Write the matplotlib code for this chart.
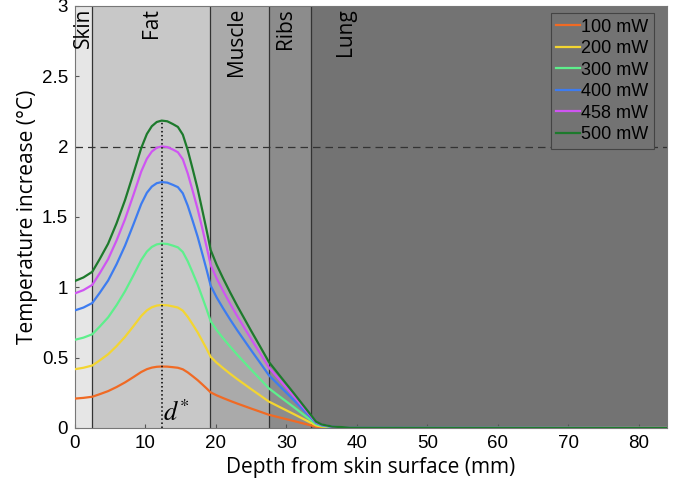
import matplotlib
matplotlib.use("Agg")
import matplotlib.pyplot as plt

plt.rcParams["font.family"] = ["Open Sans", "DejaVu Sans"]
plt.rcParams["mathtext.fontset"] = "stix"

# depth samples (mm)
depth = [0, 1.2, 2.45, 3.5, 4.7, 5.9, 7.1, 8.3, 9.4, 10.2, 10.9, 11.6, 12.3, 13.1, 13.9,
         14.6, 15.3, 16.0, 16.7, 17.4, 18.1, 18.7, 19.25, 20.1, 21, 22, 23, 24, 25, 26.2,
         27.5, 29, 31, 33.5, 34.2, 35, 36.5, 39, 84]

# temperature increase (degC) for each power level
t_100 = [0.209, 0.214, 0.222, 0.240, 0.262, 0.291, 0.324, 0.362, 0.398, 0.418, 0.429, 0.435, 0.437,
         0.436, 0.432, 0.428, 0.417, 0.395, 0.368, 0.340, 0.308, 0.280, 0.253, 0.232, 0.213, 0.193,
         0.174, 0.156, 0.138, 0.117, 0.094, 0.075, 0.050, 0.018, 0.009, 0.005, 0.002, 0.001, 0.0]
t_200 = [0.418, 0.428, 0.444, 0.480, 0.524, 0.582, 0.648, 0.724, 0.796, 0.836, 0.858, 0.870, 0.874,
         0.872, 0.864, 0.856, 0.834, 0.790, 0.736, 0.680, 0.616, 0.560, 0.506, 0.464, 0.426, 0.386,
         0.348, 0.312, 0.276, 0.234, 0.188, 0.150, 0.100, 0.036, 0.018, 0.010, 0.004, 0.001, 0.0]
t_300 = [0.627, 0.642, 0.666, 0.720, 0.786, 0.873, 0.972, 1.086, 1.194, 1.254, 1.287, 1.305, 1.311,
         1.308, 1.296, 1.284, 1.251, 1.185, 1.104, 1.020, 0.924, 0.840, 0.759, 0.696, 0.639, 0.579,
         0.522, 0.468, 0.414, 0.351, 0.282, 0.225, 0.150, 0.054, 0.027, 0.015, 0.006, 0.002, 0.0]
t_400 = [0.836, 0.856, 0.888, 0.960, 1.048, 1.164, 1.296, 1.448, 1.592, 1.672, 1.716, 1.740, 1.748,
         1.744, 1.728, 1.712, 1.668, 1.580, 1.472, 1.360, 1.232, 1.120, 1.012, 0.928, 0.852, 0.772,
         0.696, 0.624, 0.552, 0.468, 0.376, 0.300, 0.200, 0.072, 0.036, 0.020, 0.008, 0.002, 0.0]
t_458 = [0.957, 0.980, 1.017, 1.099, 1.200, 1.333, 1.484, 1.658, 1.823, 1.914, 1.965, 1.992, 2.001,
         1.997, 1.979, 1.960, 1.910, 1.809, 1.685, 1.557, 1.411, 1.282, 1.159, 1.063, 0.976, 0.884,
         0.797, 0.714, 0.632, 0.536, 0.431, 0.344, 0.229, 0.082, 0.041, 0.023, 0.009, 0.003, 0.0]
t_500 = [1.045, 1.070, 1.110, 1.200, 1.310, 1.455, 1.620, 1.810, 1.990, 2.090, 2.145, 2.175, 2.185,
         2.180, 2.160, 2.140, 2.085, 1.975, 1.840, 1.700, 1.540, 1.400, 1.265, 1.160, 1.065, 0.965,
         0.870, 0.780, 0.690, 0.585, 0.470, 0.375, 0.250, 0.090, 0.045, 0.025, 0.010, 0.003, 0.0]

series = [t_100, t_200, t_300, t_400, t_458, t_500]
labels = ["100 mW", "200 mW", "300 mW", "400 mW", "458 mW", "500 mW"]
colors = ["#f06a24", "#f3d531", "#5eef8c", "#3d7cf0", "#cf55f2", "#1d7a2c"]

# tissue layers: name, boundaries (mm), label position
layer_names = ["Skin", "Fat", "Muscle", "Ribs", "Lung"]
layer_edges = [0, 2.45, 19.2, 27.5, 33.5, 84]
layer_label_x = [1.25, 10.9, 22.9, 29.9, 38.4]
layer_colors = ["#e6e6e6", "#c8c8c8", "#aaaaaa", "#8c8c8c", "#737373"]

d_star = 12.3
safety_limit = 2.0

yticks = [0, 0.5, 1, 1.5, 2, 2.5, 3]
ytick_labels = ["0", "0.5", "1", "1.5", "2", "2.5", "3"]
xticks = [0, 10, 20, 30, 40, 50, 60, 70, 80]

TICK_FONT = ["Liberation Sans", "DejaVu Sans"]

fig = plt.figure(figsize=(6.78, 4.95), dpi=100)
ax = fig.add_axes([0.1106, 0.1354, 0.8732, 0.8526])

for i, name in enumerate(layer_names):
    ax.axvspan(layer_edges[i], layer_edges[i + 1], color=layer_colors[i], lw=0, zorder=0)
    ax.text(layer_label_x[i], 2.985, name, rotation=90, ha="center", va="top",
            fontsize=15, color="black", zorder=5)
for x in layer_edges[1:-1]:
    ax.axvline(x, color="#333333", lw=0.9, zorder=1)

ax.axhline(safety_limit, color="#333333", lw=0.9, ls=(0, (6, 4)), zorder=2)
ax.plot([d_star, d_star], [0, max(t_500)], color="black", lw=1.1, ls=":", zorder=4)
ax.text(d_star + 0.2, 0.005, r"$d^{*}$", fontsize=19, ha="left", va="bottom", zorder=5)

for vals, lab, c in zip(series, labels, colors):
    ax.plot(depth, vals, color=c, lw=1.6, label=lab, zorder=3)

ax.set_xlim(0, 84)
ax.set_ylim(0, 3)
ax.set_xticks(xticks)
ax.set_yticks(yticks)
ax.set_yticklabels(ytick_labels)
ax.tick_params(direction="in", length=3, color="#555555", labelsize=13.5, pad=5)
for lab in ax.get_xticklabels() + ax.get_yticklabels():
    lab.set_family(TICK_FONT)
for s in ax.spines.values():
    s.set_color("#777777")
    s.set_linewidth(0.8)

ax.set_xlabel("Depth from skin surface (mm)", fontsize=15, labelpad=4)
ax.set_ylabel("Temperature increase (°C)", fontsize=15, labelpad=3)

leg = ax.legend(loc="upper right", prop={"family": TICK_FONT, "size": 13},
                handlelength=1.3, handletextpad=0.1, borderpad=0.3, labelspacing=0.25,
                fancybox=False, framealpha=1, borderaxespad=0,
                bbox_to_anchor=(0.978, 0.983))
leg.get_frame().set_facecolor("#737373")
leg.get_frame().set_edgecolor("#444444")
leg.get_frame().set_linewidth(0.8)

fig.savefig("out.png", dpi=100)
